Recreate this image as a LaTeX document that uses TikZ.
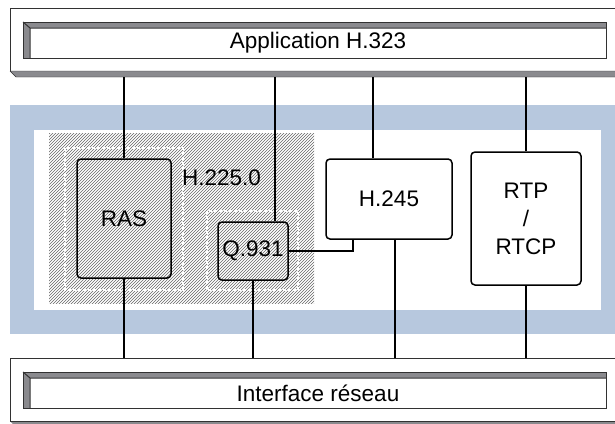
\documentclass[tikz,border=0pt]{standalone}
\usepackage{fontspec}
\setmainfont{Liberation Sans}
\usetikzlibrary{patterns,calc}

\definecolor{bandebleue}{RGB}{183,200,222}
\definecolor{arete}{RGB}{50,50,50}
\definecolor{biseau}{RGB}{138,138,142}

\tikzset{
    bloc/.style={draw, rounded corners=4pt, line width=1.5pt, inner sep=0pt, align=center, font=\fontsize{22.5}{28}\selectfont},
    barre/.style={inner sep=0pt, minimum width=576pt, minimum height=30pt, font=\fontsize{22.5}{26}\selectfont},
    liaison/.style={line width=2pt},
    pointille/.style={white, line width=1.2pt, dash pattern=on 3pt off 2pt}
}

\newcommand{\chanfrein}[2]{%
    \fill[biseau] (23,#1) rectangle (606,#2);
    \fill[white] (30,{#1+6}) rectangle (606,#2);
    \draw[arete, line width=1pt] (23,#1) rectangle (606,#2);
    \draw[arete, line width=1pt] (23,#1) -- (30,{#1+6}) -- (606,{#1+6}) (30,{#1+6}) -- (30,#2);
}

\begin{document}
\begin{tikzpicture}[x=1pt, y=-1pt]
    \useasboundingbox (0,0) rectangle (615,423);
    \fill[white] (0,0) rectangle (615,423);

    \draw[arete] (10,71) -- (10,8) -- (615,8);
    \fill[biseau] (10,71) -- (615,71) -- (615,77) -- (16,77) -- cycle;
    \draw[arete] (10,71) -- (615,71) (16,77) -- (615,77) (10,71) -- (16,77);
    \chanfrein{22}{58}

    \draw[arete] (10,421) -- (10,358) -- (615,358);
    \fill[biseau] (10,421) -- (615,421) -- (615,427) -- (16,427) -- cycle;
    \draw[arete] (10,421) -- (615,421);
    \chanfrein{372}{408}

    \fill[bandebleue] (10,105) rectangle (615,334);
    \fill[white] (34,130) rectangle (601,310);
    \fill[pattern=north east lines, pattern color=gray!80!black] (49,133) rectangle (314,303);
    \draw[pointille] (65,148) rectangle (183,290);
    \draw[pointille] (207,211) rectangle (298,290);

    \path node[barre] (appli) at (318,43) {Application H.323}
        node[barre] (reseau) at (318,393) {Interface réseau}
        node[bloc, minimum width=94pt, minimum height=119pt] (ras) at (124,218.5) {RAS}
        node[bloc, minimum width=70pt, minimum height=58pt] (q931) at (253,251) {Q.931}
        node[bloc, fill=white, minimum width=126pt, minimum height=80pt] (h245) at (389,199) {H.245}
        node[bloc, fill=white, minimum width=110pt, minimum height=133pt] (rtp) at (526,218.5) {RTP\\/\\RTCP}
        node[anchor=west, inner sep=0pt, font=\fontsize{22.5}{26}\selectfont] (h225) at (182,178) {H.225.0};

    \coordinate (haut) at (0,77);
    \coordinate (bas) at (0,358);

    \draw[liaison] (ras.north) -- (ras.north |- haut);
    \draw[liaison] (ras.south) -- (ras.south |- bas);
    \draw[liaison] ([xshift=22pt]q931.north) -- ([xshift=22pt]q931.north |- haut);
    \draw[liaison] (q931.south) -- (q931.south |- bas);
    \draw[liaison] ([xshift=-16pt]h245.north) -- ([xshift=-16pt]h245.north |- haut);
    \draw[liaison] ([xshift=6pt]h245.south) -- ([xshift=6pt]h245.south |- bas);
    \draw[liaison] (rtp.north) -- (rtp.north |- haut);
    \draw[liaison] (rtp.south) -- (rtp.south |- bas);
    \draw[liaison] (q931.east) -| ([xshift=-36pt]h245.south);
\end{tikzpicture}
\end{document}
